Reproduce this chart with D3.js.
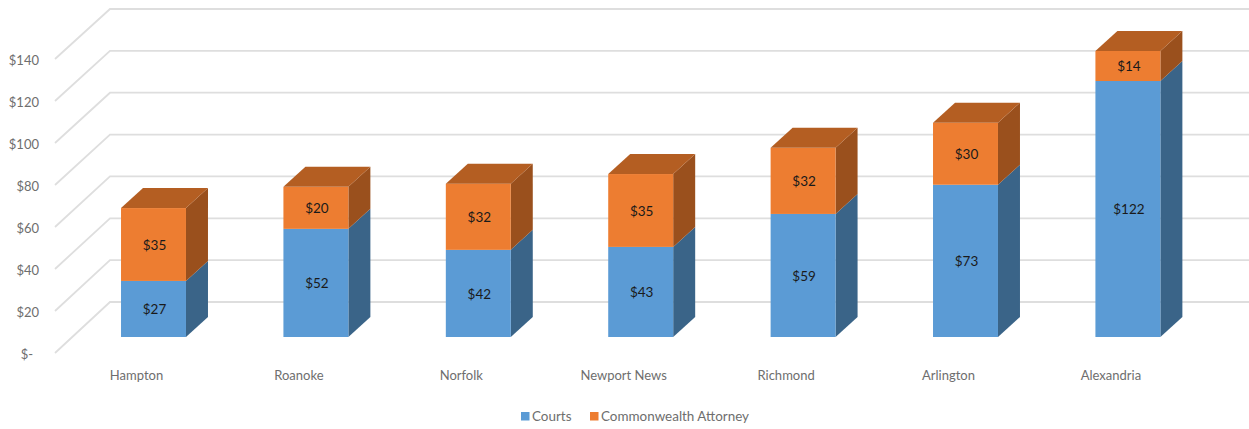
<!DOCTYPE html>
<html><head><meta charset="utf-8">
<script src="https://cdn.jsdelivr.net/npm/d3@7"></script>
<style>html,body{margin:0;padding:0;background:#fff}svg{display:block}text{font-family:Lato,"Open Sans",sans-serif}</style>
</head><body><svg id="c" width="1249" height="429"></svg>
<script>
const categories = ["Hampton","Roanoke","Norfolk","Newport News","Richmond","Arlington","Alexandria"];
const courts = [26.7,51.5,41.5,42.9,58.6,72.5,121.9];
const attorney = [34.7,20.0,31.5,34.7,31.5,29.5,14.3];
const seriesNames = ["Courts","Commonwealth Attorney"];
const yTicks = [0,20,40,60,80,100,120,140];

const W=1249,H=429;
const svg=d3.select("#c");
const money=v=>v===0?"$-":"$"+Math.round(v);
const colors={front:["#5B9BD5","#ED7D31"],side:["#3A6488","#9A501D"],top:["#3F6E98","#B45E22"]};

// wall scales
const yFront=d3.scaleLinear().domain([0,140]).range([353,59]);
const yBack=d3.scaleLinear().domain([0,140]).range([302,9]);
const yBar=d3.scaleLinear().domain([0,140]).range([337,43]);
const wall={x0:55,x1:110,x2:W};
const x=d3.scaleBand().domain(categories).range([72.3,1209.1]).paddingInner(0.6).paddingOuter(0.3);
const depth={dx:22,dy:20};

// gridlines
const grid=svg.append("g").attr("fill","none").attr("stroke","#DEDEDE").attr("stroke-width",1.8);
grid.selectAll("path").data(yTicks).join("path")
  .attr("d",d=>d3.line()([[wall.x0,yFront(d)],[wall.x1,yBack(d)],[wall.x2,yBack(d)]]));

// y axis labels
const yAxis=svg.append("g").attr("transform","translate(39,1)")
  .call(d3.axisLeft(yFront).tickValues(yTicks).tickSize(0).tickPadding(0).tickFormat(money));
yAxis.select(".domain").remove();
yAxis.selectAll("text").attr("font-size",13).attr("fill","#6e6e6e").style("font-family","Lato")
  .attr("dx",d=>d===0?-6:0);

// category labels
const xAxis=svg.append("g").attr("transform","translate(-17,371)")
  .call(d3.axisBottom(x).tickSize(0).tickPadding(0));
xAxis.select(".domain").remove();
xAxis.selectAll("text").attr("font-size",13).attr("fill","#6e6e6e").style("font-family","Lato");

// stacks
const rows=categories.map((c,i)=>({c,v:[courts[i],attorney[i]]}));
const bars=svg.append("g").selectAll("g").data(rows).join("g");
bars.each(function(r){
  const g=d3.select(this), x0=x(r.c), x1=x0+x.bandwidth();
  let base=0;
  r.v.forEach((v,k)=>{
    const y0=yBar(base), y1=yBar(base+v);
    g.append("path").attr("fill",colors.side[k])
      .attr("d",d3.line()([[x1,y0],[x1+depth.dx,y0-depth.dy],[x1+depth.dx,y1-depth.dy],[x1,y1]])+"Z");
    g.append("rect").attr("x",x0).attr("y",y1).attr("width",x.bandwidth()).attr("height",y0-y1).attr("fill",colors.front[k]);
    if(k===r.v.length-1){
      g.append("path").attr("fill",colors.top[k])
        .attr("d",d3.line()([[x0,y1],[x0+depth.dx,y1-depth.dy],[x1+depth.dx,y1-depth.dy],[x1,y1]])+"Z");
    }
    g.append("text").attr("x",(x0+x1)/2+1).attr("y",(y0+y1)/2+0.5).attr("dy","0.35em")
      .attr("text-anchor","middle").attr("font-size",13.5).attr("fill","#1a1a1a").text(money(v));
    base+=v;
  });
});

// legend
const legendX=d3.scaleOrdinal().domain(seriesNames).range([521,590]);
const lg=svg.append("g").selectAll("g").data(seriesNames).join("g")
  .attr("transform",d=>`translate(${legendX(d)},412)`);
lg.append("rect").attr("width",8.5).attr("height",8.5).attr("fill",(d,i)=>colors.front[i]);
lg.append("text").attr("x",11).attr("y",4.5).attr("dy","0.35em").attr("font-size",13.45).attr("fill","#6e6e6e").text(d=>d);
</script></body></html>
